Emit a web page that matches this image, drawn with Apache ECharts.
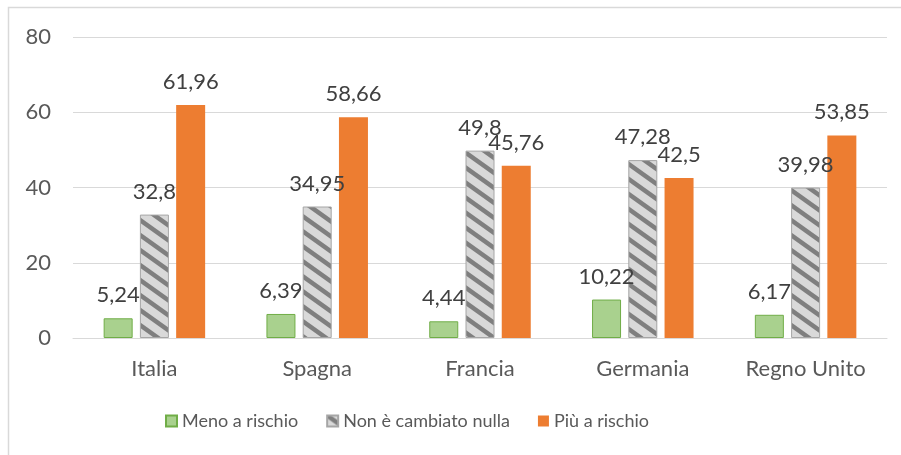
<!DOCTYPE html>
<html>
<head>
<meta charset="utf-8">
<script src="https://cdn.jsdelivr.net/npm/echarts@6/dist/echarts.min.js"></script>
<style>
  html, body { margin: 0; padding: 0; background: #fff; }
  #chart { width: 901px; height: 455px; }
</style>
</head>
<body>
<div id="chart"></div>
<script>
const categories = ['Italia', 'Spagna', 'Francia', 'Germania', 'Regno Unito']
const menoRischio = [5.24, 6.39, 4.44, 10.22, 6.17]
const nonCambiato = [32.8, 34.95, 49.8, 47.28, 39.98]
const piuRischio = [61.96, 58.66, 45.76, 42.5, 53.85]
const seriesNames = ['Meno a rischio', 'Non è cambiato nulla', 'Più a rischio']

const font = 'Lato, Carlito, Calibri, sans-serif'

// diagonal stripe tile for the middle series
function stripeTile() {
  const w = 21, h = 15
  const c = document.createElement('canvas')
  c.width = w
  c.height = h
  const ctx = c.getContext('2d')
  ctx.fillStyle = '#D9D9D9'
  ctx.fillRect(0, 0, w, h)
  ctx.strokeStyle = '#7F7F7F'
  ctx.lineWidth = 4.5
  for (const off of [-h, 0, h]) {
    ctx.beginPath()
    ctx.moveTo(-w, off - h)
    ctx.lineTo(2 * w, off + 2 * h)
    ctx.stroke()
  }
  return c
}

const valueLabel = {
  show: true,
  position: 'top',
  distance: 12,
  color: '#404040',
  fontFamily: font,
  fontSize: 22,
  formatter: (p) => String(p.value).replace('.', ','),
}

const chart = echarts.init(document.getElementById('chart'))
chart.setOption({
  animation: false,
  textStyle: { fontFamily: font },
  grid: { left: 73, right: 14, top: 37, bottom: 117 },
  legend: {
    left: 165,
    top: 412,
    padding: 0,
    itemWidth: 11,
    itemHeight: 11,
    itemGap: 28,
    icon: 'rect',
    textStyle: { color: '#595959', fontSize: 18, fontFamily: font },
    data: seriesNames,
  },
  xAxis: {
    type: 'category',
    data: categories,
    axisLine: { lineStyle: { color: '#D9D9D9', width: 1 } },
    axisTick: { show: false },
    axisLabel: { color: '#595959', fontSize: 22, margin: 20, fontFamily: font },
  },
  yAxis: {
    type: 'value',
    min: 0,
    max: 80,
    interval: 20,
    axisLine: { show: false },
    axisTick: { show: false },
    axisLabel: { color: '#595959', fontSize: 22, margin: 22, fontFamily: font },
    splitLine: { lineStyle: { color: '#D9D9D9', width: 1 } },
  },
  series: [
    {
      name: seriesNames[0],
      type: 'bar',
      data: menoRischio,
      barWidth: 29,
      barGap: '25%',
      itemStyle: { color: '#A9D18E', borderColor: '#70AD47', borderWidth: 1 },
      label: valueLabel,
    },
    {
      name: seriesNames[1],
      type: 'bar',
      data: nonCambiato,
      barWidth: 29,
      barGap: '25%',
      itemStyle: {
        color: { image: stripeTile(), repeat: 'repeat' },
        borderColor: '#A6A6A6',
        borderWidth: 1,
      },
      label: valueLabel,
    },
    {
      name: seriesNames[2],
      type: 'bar',
      data: piuRischio,
      barWidth: 29,
      barGap: '25%',
      itemStyle: { color: '#ED7D31' },
      label: valueLabel,
    },
  ],
  graphic: [
    {
      type: 'polyline',
      silent: true,
      shape: { points: [[8.5, 455], [8.5, 7.5], [901, 7.5]] },
      style: { stroke: '#D9D9D9', lineWidth: 1.5, fill: null },
    },
  ],
})
</script>
</body>
</html>
